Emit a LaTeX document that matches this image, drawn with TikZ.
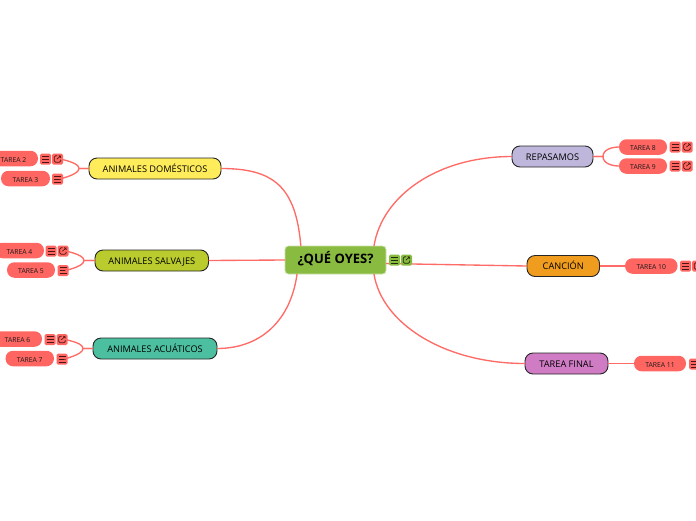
\documentclass[tikz,border=0pt]{standalone}
\usepackage{fontspec}
\setmainfont{Open Sans}
\definecolor{linkred}{HTML}{FF6B66}
\definecolor{taskred}{HTML}{FF6662}
\definecolor{rootgreen}{HTML}{8ABB41}
\definecolor{inkred}{HTML}{4A1512}
\definecolor{inkgreen}{HTML}{1E2A0C}
\tikzset{
  link/.style={draw=linkred,line width=1.35pt},
  root/.style={fill=rootgreen,draw=rootgreen!45!white,line width=0.7pt,rounded corners=3.5pt,minimum width=101pt,minimum height=28pt,inner sep=0pt,outer sep=0pt,font=\fontsize{13}{15}\selectfont\bfseries,text=black,text height=0.72em,text depth=0pt},
  branch/.style={draw=black!85,line width=0.9pt,rounded corners=8pt,minimum height=21pt,inner sep=0pt,outer sep=0pt,font=\fontsize{9.2}{11}\selectfont,text=black,text height=0.72em,text depth=0pt},
  task/.style={fill=taskred,rounded corners=7.5pt,minimum height=15.5pt,inner sep=0pt,outer sep=0pt,font=\fontsize{6.8}{8}\selectfont,text=black!90,text height=0.72em,text depth=0pt},
  iconbase/.style={rounded corners=1.5pt,minimum width=11pt,minimum height=11pt,inner sep=0pt,outer sep=0pt},
  menuicon/.style={iconbase,fill=#1,path picture={
    \draw[line width=0.9pt,draw=\iconink]
      ([shift={(-3.5pt,-3pt)}]path picture bounding box.center) -- ++(7pt,0pt)
      ([shift={(-3.5pt,0pt)}]path picture bounding box.center) -- ++(7pt,0pt)
      ([shift={(-3.5pt,3pt)}]path picture bounding box.center) -- ++(7pt,0pt);}},
  linkicon/.style={iconbase,fill=#1,path picture={
    \draw[line width=0.65pt,draw=\iconink]
      ([shift={(-0.3pt,3.3pt)}]path picture bounding box.center) -- ++(-3pt,0pt) -- ++(0pt,-6.6pt) -- ++(6.6pt,0pt) -- ++(0pt,3pt)
      ([shift={(-0.6pt,-0.2pt)}]path picture bounding box.center) -- ++(3.9pt,3.5pt)
      ([shift={(1.1pt,3.3pt)}]path picture bounding box.center) -- ++(2.2pt,0pt) -- ++(0pt,-2.2pt);}},
}
\newcommand{\iconink}{inkred}
\begin{document}
\begin{tikzpicture}[x=1pt,y=-1pt]
\useasboundingbox (0,0) rectangle (696,520);
\clip (0,0) rectangle (696,520);
% root
\node[root] (root) at (335.5,260) {¿QUÉ OYES?};
% branches
\node[branch,fill={rgb,255:red,255;green,236;blue,90},minimum width=132pt] (dom) at (155,168.5) {ANIMALES DOMÉSTICOS};
\node[branch,fill={rgb,255:red,185;green,203;blue,45},minimum width=113.5pt] (sal) at (151.75,260.5) {ANIMALES SALVAJES};
\node[branch,fill={rgb,255:red,76;green,191;blue,160},minimum width=124pt] (acu) at (155,348.5) {ANIMALES ACUÁTICOS};
\node[branch,fill={rgb,255:red,190;green,183;blue,219},minimum width=81pt] (rep) at (552.5,156.5) {REPASAMOS};
\node[branch,fill={rgb,255:red,240;green,156;blue,30},minimum width=72.5pt] (can) at (563.25,266) {CANCIÓN};
\node[branch,fill={rgb,255:red,208;green,124;blue,196},minimum width=83pt] (fin) at (566.5,363.5) {TAREA FINAL};
% tasks
\node[task,minimum width=49pt] (t2) at (13.5,158.5) {TAREA 2};
\node[task,minimum width=49pt] (t3) at (25.5,178.5) {TAREA 3};
\node[task,minimum width=49pt] (t4) at (19.5,250.5) {TAREA 4};
\node[task,minimum width=48pt] (t5) at (31,270) {TAREA 5};
\node[task,minimum width=49pt] (t6) at (17.5,339) {TAREA 6};
\node[task,minimum width=48.5pt] (t7) at (29.75,358.5) {TAREA 7};
\node[task,minimum width=48pt] (t8) at (643,147) {TAREA 8};
\node[task,minimum width=48pt] (t9) at (643,166) {TAREA 9};
\node[task,minimum width=52.5pt] (t10) at (651.25,266) {TAREA 10};
\node[task,minimum width=52pt] (t11) at (660,363.5) {TAREA 11};
% task icons
\node[menuicon=taskred] (m2) at (45.5,159) {};
\node[linkicon=taskred] (l2) at (57.5,159) {};
\node[menuicon=taskred] (m3) at (57.5,179) {};
\node[menuicon=taskred] (m4) at (51,251) {};
\node[linkicon=taskred] (l4) at (63,251) {};
\node[menuicon=taskred] (m5) at (63,270.5) {};
\node[menuicon=taskred] (m6) at (50,339.5) {};
\node[linkicon=taskred] (l6) at (62,339.5) {};
\node[menuicon=taskred] (m7) at (62,359) {};
\node[menuicon=taskred] (m8) at (675,147) {};
\node[linkicon=taskred] (l8) at (687,147) {};
\node[menuicon=taskred] (m9) at (675,166) {};
\node[linkicon=taskred] (l9) at (687,166) {};
\node[menuicon=taskred] (m10) at (685.5,266) {};
\node[linkicon=taskred] (l10) at (697.5,266) {};
\node[menuicon=taskred] (m11) at (694.5,364) {};
% root connectors
\draw[link] (root.158.5) .. controls +(-5,-60) and +(52,0) .. (dom.east);
\draw[link] (root.west) -- (sal.east);
\draw[link] (root.200.5) .. controls +(-6,45) and +(45,0) .. (acu.east);
\draw[link] (root.20.5) .. controls +(8,-50) and +(-75,0) .. (rep.west);
\draw[link] (root.-4.5) -- (can.west);
\draw[link] (root.-20.5) .. controls +(8,50) and +(-80,0) .. (fin.west);
% root icons, over the connector
\renewcommand{\iconink}{inkgreen}
\node[menuicon=rootgreen] (rm) at (394.5,260) {};
\node[linkicon=rootgreen] (rl) at (406.5,260) {};
% child connectors
\draw[link] (dom.west) -- ++(-10,0) .. controls +(0,-7) and +(-7,0) .. (l2.east);
\draw[link] (dom.west) -- ++(-10,0) .. controls +(0,7) and +(-7,0) .. (m3.east);
\draw[link] (sal.west) -- ++(-11,0) .. controls +(0,-7) and +(-7,0) .. (l4.east);
\draw[link] (sal.west) -- ++(-11,0) .. controls +(0,7) and +(-7,0) .. (m5.east);
\draw[link] (acu.west) -- ++(-10,0) .. controls +(0,-7) and +(-7,0) .. (l6.east);
\draw[link] (acu.west) -- ++(-10,0) .. controls +(0,7) and +(-7,0) .. (m7.east);
\draw[link] (rep.east) -- ++(10,0) .. controls +(0,-7) and +(-7,0) .. (t8.west);
\draw[link] (rep.east) -- ++(10,0) .. controls +(0,7) and +(-7,0) .. (t9.west);
\draw[link] (can.east) -- (t10.west);
\draw[link] (fin.east) -- (t11.west);
\end{tikzpicture}
\end{document}
